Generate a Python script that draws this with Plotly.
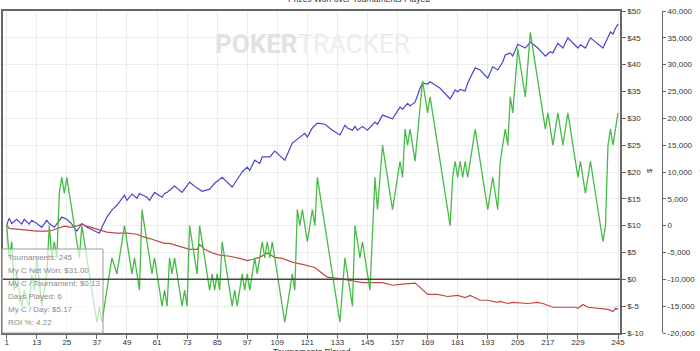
import plotly.graph_objects as go

# ---------------- data ----------------
x_ticks = [1, 13, 25, 37, 49, 61, 73, 85, 97, 109, 121, 133, 145, 157, 169, 181, 193, 205, 217, 229, 245]
x_tick_labels = [str(v) for v in x_ticks]

usd_ticks = [-10, -5, 0, 5, 10, 15, 20, 25, 30, 35, 40, 45, 50]
usd_tick_labels = ["$-10", "$-5", "$0", "$5", "$10", "$15", "$20", "$25", "$30", "$35", "$40", "$45", "$50"]

right_ticks = [-20000, -15000, -10000, -5000, 0, 5000, 10000, 15000, 20000, 25000, 30000, 35000, 40000]
right_tick_labels = ["-20,000", "-15,000", "-10,000", "-5,000", "0", "5,000", "10,000", "15,000",
                     "20,000", "25,000", "30,000", "35,000", "40,000"]

# green series (right axis units), vertices at tournament numbers
green_t = [1, 2, 3, 4, 5, 7, 8, 10, 11, 12, 13, 15, 17, 18, 19, 20, 21, 22, 23, 24,
           25, 30, 31, 37, 38, 39, 43, 45, 48, 51, 52, 54, 55, 59, 60, 63, 64, 65, 66, 67,
           68, 71, 72, 73, 74, 77, 78, 82, 83, 84, 85, 86, 87, 91, 92, 93, 95, 96, 97, 98,
           100, 101, 103, 104, 105, 106, 107, 112, 115, 116, 117, 118, 119, 121, 123, 124, 125, 134, 136, 139,
           140, 142, 143, 146, 148, 149, 151, 155, 158, 159, 160, 161, 162, 164, 167, 169, 170, 178, 179, 180,
           181, 182, 183, 184, 185, 188, 193, 195, 197, 198, 200, 201, 202, 203, 205, 208, 210, 216, 217, 219,
           221, 223, 225, 229, 230, 232, 234, 239, 240, 241, 242, 243, 245]
green_v = [0, -6000, -3000, -12000, -9000, -15000, -12000, -15000, -9000, -12000,
           -6000, -15000, -9000, 0, -6000, -3000, -6000, 6000, 9000, 6000,
           9000, -6000, 0, -18000, -15000, -18000, -6000, -9000, 0, -9000,
           -6000, -12000, 3000, -9000, -6000, -15000, -12000, -15000, -6000, -9000,
           -6000, -15000, -12000, -15000, 0, -9000, 0, -12000, -9000, -12000,
           -9000, -12000, -3000, -15000, -12000, -15000, -9000, -12000, -9000, -12000,
           -6000, -9000, -3000, -6000, -3000, -6000, -3000, -18000, -9000, -12000,
           3000, 0, 3000, -3000, 3000, 0, 9000, -18000, -6000, -15000,
           0, -6000, -3000, -12000, 9000, 3000, 15000, 3000, 12000, 9000,
           18000, 15000, 18000, 12000, 27000, 21000, 24000, 0, 9000, 12000,
           9000, 12000, 9000, 12000, 9000, 18000, 3000, 9000, 3000, 12000,
           18000, 15000, 24000, 21000, 33000, 24000, 36000, 18000, 21000, 15000,
           21000, 15000, 21000, 9000, 12000, 6000, 12000, -3000, 0, 15000,
           18000, 15000, 21000]

# blue series ($)
blue_t = [1, 2, 3, 5, 7, 8, 10, 11, 13, 15, 17, 18, 20, 22, 23, 25, 27, 29, 31, 33,
          35, 38, 39, 41, 43, 45, 48, 49, 51, 53, 54, 57, 58, 60, 63, 64, 65, 68, 71, 74,
          77, 79, 82, 84, 87, 91, 92, 95, 97, 98, 100, 102, 103, 106, 108, 112, 115, 117, 118, 120,
          121, 123, 125, 128, 131, 134, 136, 137, 139, 140, 141, 143, 145, 148, 149, 151, 155, 158, 159, 161,
          162, 164, 166, 167, 169, 170, 172, 174, 178, 180, 181, 182, 184, 185, 188, 190, 193, 195, 197, 199,
          200, 202, 203, 205, 208, 210, 213, 216, 218, 219, 221, 223, 225, 227, 229, 230, 232, 234, 239, 242,
          243, 244, 245]
blue_v = [10.1, 11.4, 10.4, 11.2, 10.3, 11.2, 10.3, 11.0, 10.4, 9.7,
          11.0, 10.4, 9.7, 11.0, 11.6, 11.2, 10.3, 9.0, 10.4, 9.7,
          9.3, 8.6, 9.7, 11.6, 12.9, 13.8, 15.7, 14.7, 15.9, 15.1,
          16.0, 15.3, 14.7, 16.2, 15.3, 16.0, 16.2, 17.4, 16.2, 18.1,
          17.0, 16.4, 16.8, 17.9, 19.0, 17.2, 17.9, 20.0, 20.9, 20.3,
          22.2, 21.6, 22.8, 22.8, 23.9, 22.2, 25.4, 26.1, 26.5, 27.2,
          26.5, 28.2, 29.1, 28.9, 27.8, 26.9, 28.7, 28.2, 27.8, 28.5,
          27.8, 28.5, 27.8, 29.3, 28.9, 30.6, 29.9, 32.1, 31.7, 32.8,
          32.3, 33.0, 35.6, 36.6, 36.4, 36.8, 36.2, 35.6, 33.6, 35.3,
          34.9, 35.4, 35.1, 36.6, 39.4, 39.0, 37.5, 39.6, 39.0, 40.5,
          41.8, 42.2, 41.6, 43.8, 43.1, 44.2, 43.1, 41.6, 42.4, 42.2,
          44.0, 43.1, 45.0, 44.0, 43.1, 43.7, 43.1, 45.0, 43.1, 46.1,
          45.7, 46.8, 47.6]

# red series ($)
red_t = [1, 2, 6, 10, 13, 17, 19, 24, 27, 30, 31, 33, 36, 38, 41, 45, 49, 53, 55, 58,
         61, 64, 66, 69, 71, 74, 77, 78, 80, 83, 86, 90, 94, 97, 99, 102, 105, 108, 111, 115,
         119, 122, 124, 127, 129, 133, 136, 139, 143, 151, 155, 159, 164, 166, 169, 173, 177, 181, 184, 186,
         190, 193, 197, 198, 201, 203, 207, 209, 213, 215, 219, 225, 228, 229, 231, 233, 238, 241, 243, 244, 245]
red_v = [10.1, 9.5, 9.3, 9.1, 9.0, 9.0, 9.1, 9.9, 9.7, 10.1,
         10.3, 9.9, 9.5, 9.1, 8.8, 8.6, 8.6, 8.4, 8.0, 7.6,
         7.1, 6.7, 6.7, 6.3, 6.0, 5.6, 5.6, 6.5, 5.6, 4.9,
         4.5, 4.3, 3.9, 3.5, 3.7, 4.1, 4.9, 4.1, 3.9, 3.2,
         2.8, 2.4, 2.2, 1.1, 0.4, 0.2, 0.0, -0.2, -0.6, -0.6,
         -1.1, -0.9, -0.7, -1.5, -2.8, -2.8, -3.2, -3.0, -3.4, -3.0,
         -3.9, -3.9, -4.3, -4.1, -4.5, -4.3, -4.5, -4.5, -4.3, -4.5,
         -5.2, -5.2, -5.2, -5.4, -4.7, -5.2, -5.4, -5.6, -6.0, -5.4, -5.6]

summary_lines = ["Tournaments: 245", "My C Net Won: $31.00", "My C / Tournament: $0.13",
                 "Days Played: 6", "My C / Day: $5.17", "ROI %: 4.22"]

chart_title = "Prizes Won over Tournaments Played"
x_title = "Tournaments Played"

assert len(green_t) == len(green_v)
assert len(blue_t) == len(blue_v)
assert len(red_t) == len(red_v)

# ---------------- layout helpers (pixel -> paper) ----------------
W, H = 700, 351
ML, MR, MT, MB = 3, 2, 11, 18
PW = W - ML - MR
PH = H - MT - MB


def px(x):
    return (x - ML) / PW


def py(y):
    return (H - MB - y) / PH


FONT = "Liberation Sans, Arial, sans-serif"

fig = go.Figure()
fig.add_trace(go.Scatter(x=blue_t, y=blue_v, mode="lines",
                         line=dict(color="#4848c8", width=1.2), hoverinfo="skip"))
fig.add_trace(go.Scatter(x=red_t, y=red_v, mode="lines",
                         line=dict(color="#c24646", width=1.2), hoverinfo="skip"))
fig.add_trace(go.Scatter(x=green_t, y=green_v, mode="lines", yaxis="y2",
                         line=dict(color="#46bb46", width=1.3), hoverinfo="skip"))

fig.update_layout(
    template="none",
    width=W, height=H,
    margin=dict(l=ML, r=MR, t=MT, b=MB, pad=0),
    paper_bgcolor="white", plot_bgcolor="white",
    showlegend=False,
    font=dict(family=FONT, size=8, color="#333333"),
    xaxis=dict(domain=[0, px(620)], range=[-0.48, 245.8], tickmode="array",
               tickvals=x_ticks, ticktext=x_tick_labels,
               showgrid=True, gridcolor="#ececec", gridwidth=1,
               showline=True, linecolor="#666666", linewidth=1.5, mirror=True,
               ticks="outside", ticklen=4, tickcolor="#666666", ticklabelstandoff=-3,
               tickfont=dict(family=FONT, size=8, color="#333333"),
               zeroline=False, automargin=False, fixedrange=True),
    yaxis=dict(range=[-10, 50], side="right", anchor="x", tickmode="array",
               tickvals=usd_ticks, ticktext=usd_tick_labels,
               showgrid=True, gridcolor="#ececec", gridwidth=1,
               showline=True, linecolor="#666666", linewidth=1.5, mirror=True,
               ticks="outside", ticklen=4, tickcolor="#666666",
               tickfont=dict(family=FONT, size=8, color="#333333"),
               zeroline=False, automargin=False, fixedrange=True),
    yaxis2=dict(range=[-20000, 40000], overlaying="y", side="right", anchor="free",
                position=px(662), tickmode="array",
                tickvals=right_ticks, ticktext=right_tick_labels,
                showgrid=False, showline=True, linecolor="#666666", linewidth=1,
                ticks="outside", ticklen=3, tickcolor="#666666",
                tickfont=dict(family=FONT, size=8, color="#333333"),
                zeroline=False, automargin=False, fixedrange=True),
)

shapes = [
    dict(type="rect", xref="paper", yref="paper", x0=px(2), x1=px(103), y0=py(333), y1=py(249),
         fillcolor="rgba(255,255,255,0.65)", line=dict(color="#9a9a9a", width=1), layer="above"),
    dict(type="line", xref="paper", yref="y", x0=0, x1=px(620), y0=0, y1=0,
         line=dict(color="#444444", width=1.5), layer="above"),
]
fig.update_layout(shapes=shapes)

ann = []
# watermark
ann.append(dict(xref="paper", yref="paper", x=px(312), y=py(44), xanchor="center", yanchor="middle",
                text="<b><span style='color:#e2e2e2'>POKER</span></b><span style='color:#ededed'>TRACKER</span>",
                showarrow=False, font=dict(family="Roboto, sans-serif", size=26)))
# chart title
ann.append(dict(xref="paper", yref="paper", x=px(359), y=py(-1), xanchor="center", yanchor="middle",
                text=chart_title, showarrow=False, font=dict(family=FONT, size=8.5, color="#333333")))
# x-axis title
ann.append(dict(xref="paper", yref="paper", x=px(311.5), y=py(352), xanchor="center", yanchor="middle",
                text=x_title, showarrow=False, font=dict(family=FONT, size=8.5, color="#333333")))
# axis titles
ann.append(dict(xref="paper", yref="paper", x=px(649), y=py(171), xanchor="center", yanchor="middle",
                text="$", textangle=-90, showarrow=False, font=dict(family=FONT, size=8, color="#333333")))
ann.append(dict(xref="paper", yref="paper", x=px(702), y=py(171), xanchor="center", yanchor="middle",
                text="$", textangle=-90, showarrow=False, font=dict(family=FONT, size=8, color="#333333")))
# summary box text
for i, line in enumerate(summary_lines):
    ann.append(dict(xref="paper", yref="paper", x=px(6), y=py(257 + 13 * i), xanchor="left", yanchor="middle",
                    text=line, showarrow=False, font=dict(family=FONT, size=8, color="#8a8a8a")))
fig.update_layout(annotations=ann)

fig.write_html("out.html", config={"displayModeBar": False})
